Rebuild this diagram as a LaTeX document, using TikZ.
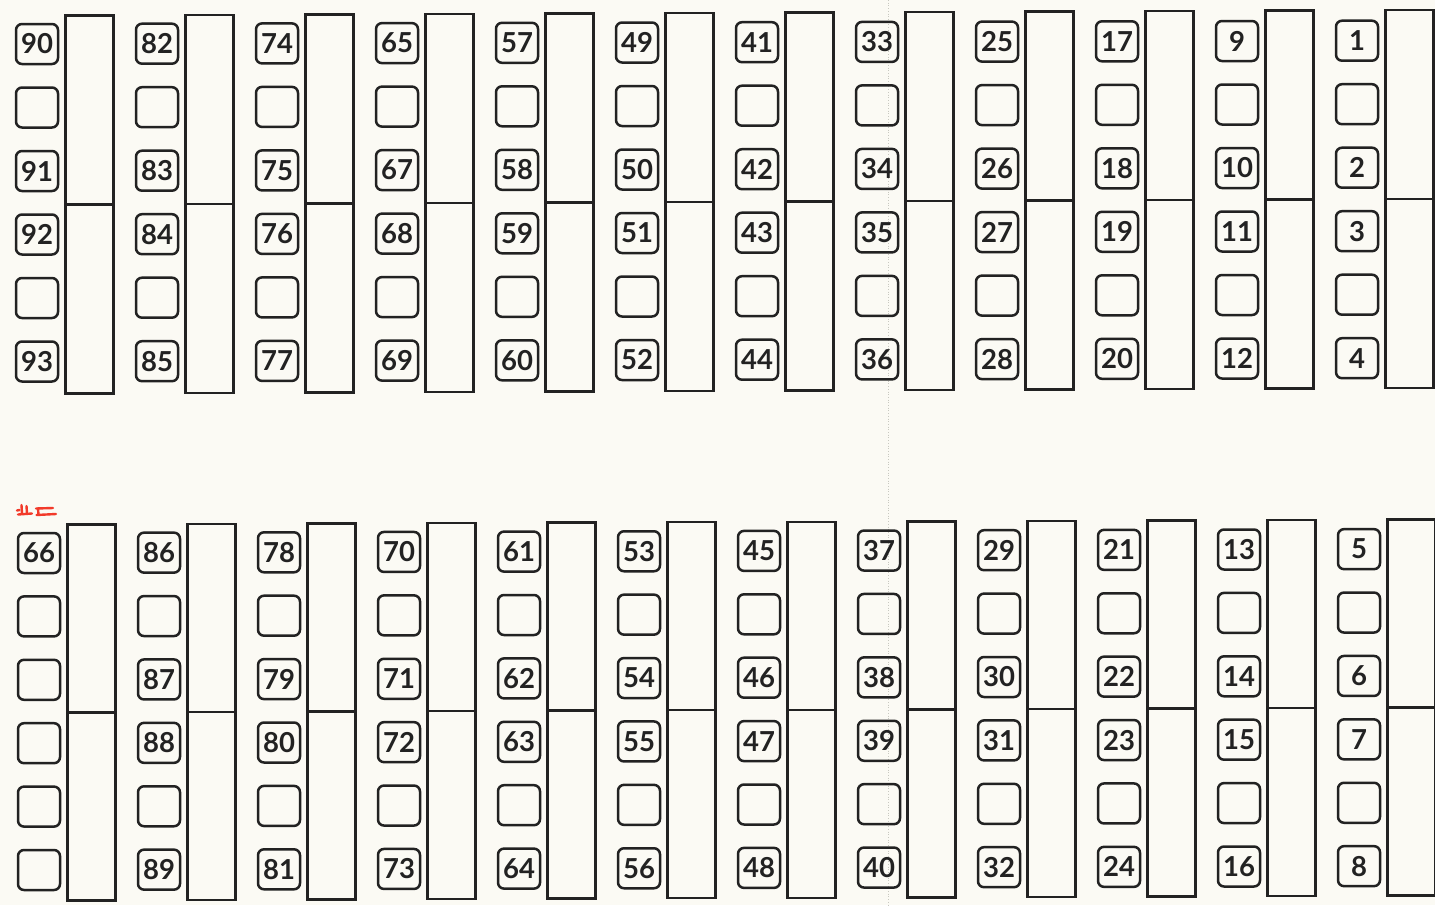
\documentclass[tikz,border=0pt]{standalone}
\usepackage{fontspec}
\setmainfont{Carlito}
\newfontfamily\slotfont{Lato}[BoldFont={Lato Bold}]
\definecolor{paper}{HTML}{FBFAF4}
\definecolor{ink}{HTML}{222222}
\definecolor{redpen}{HTML}{F23A2A}
\definecolor{fold}{HTML}{C8C8C0}
\begin{document}
\begin{tikzpicture}[x=1pt,y=-1pt,
  slot/.style={draw=ink, line width=2.5pt, rounded corners=6pt, minimum width=42pt,
    minimum height=40pt, inner sep=0pt, text=ink,
    font=\slotfont\bfseries\fontsize{27.5}{27.5}\selectfont},
  bar/.style={draw=ink, line width=2.5pt, minimum width=48pt, inner sep=0pt, anchor=north west},
  splitline/.style={draw=ink, line width=2.5pt}]
\fill[paper] (0,0) rectangle (1435,905);
\useasboundingbox (0,0) rectangle (1435,905);
\draw[fold, dotted, line width=0.7pt] (888,0) -- (888,905);
% top row
\foreach \i/\a/\b/\c/\d in {0/90/91/92/93,1/82/83/84/85,2/74/75/76/77,3/65/67/68/69,
  4/57/58/59/60,5/49/50/51/52,6/41/42/43/44,7/33/34/35/36,8/25/26/27/28,
  9/17/18/19/20,10/9/10/11/12,11/1/2/3/4}{
  \pgfmathsetmacro\x{37+120*\i}
  \pgfmathsetmacro\y{44-0.3*\i}
  \node[slot] (t\a) at (\x,\y) {\a};
  \node[slot] (te\i-1) at (\x,\y+63.5) {};
  \node[slot] (t\b) at (\x,\y+127) {\b};
  \node[slot] (t\c) at (\x,\y+190.5) {\c};
  \node[slot] (te\i-4) at (\x,\y+254) {};
  \node[slot] (t\d) at (\x,\y+317.5) {\d};
  \node[bar, minimum height=378pt] (tb\i) at ({64.4+120*\i},{14.2-0.5*\i}) {};
  \draw[splitline] (tb\i.west) -- (tb\i.east);
}
% bottom row, first column
\node[slot] (b66) at (39,553) {66};
\foreach \k in {1,...,5}{
  \node[slot] (be0-\k) at (39,{553+63.4*\k}) {};
}
\node[bar, minimum height=376pt] (bb0) at (66.2,523.2) {};
\draw[splitline] (bb0.west) -- (bb0.east);
% bottom row, other columns
\foreach \i/\a/\b/\c/\d in {1/86/87/88/89,2/78/79/80/81,3/70/71/72/73,4/61/62/63/64,
  5/53/54/55/56,6/45/46/47/48,7/37/38/39/40,8/29/30/31/32,9/21/22/23/24,
  10/13/14/15/16,11/5/6/7/8}{
  \pgfmathsetmacro\x{39+120*\i}
  \pgfmathsetmacro\y{553-0.35*\i}
  \node[slot] (b\a) at (\x,\y) {\a};
  \node[slot] (be\i-1) at (\x,\y+63.4) {};
  \node[slot] (b\b) at (\x,\y+126.8) {\b};
  \node[slot] (b\c) at (\x,\y+190.2) {\c};
  \node[slot] (be\i-4) at (\x,\y+253.6) {};
  \node[slot] (b\d) at (\x,\y+317) {\d};
  \node[bar, minimum height=376pt] (bb\i) at ({66.2+120*\i},{523.2-0.45*\i}) {};
  \draw[splitline] (bb\i.west) -- (bb\i.east);
}
% red handwritten mark
\begin{scope}[draw=redpen, line width=2.4pt, line cap=round, line join=round]
  \draw (17,510.5) -- (19.5,510);
  \draw (21.5,505) -- (22,513.5);
  \draw (26.5,506) -- (27,513.5);
  \draw (18,514.5) -- (32,513.5);
  \draw (36,508.5) -- (53,508);
  \draw (38,508.5) -- (38.5,514.5);
  \draw (36.5,515) -- (56,514);
\end{scope}
\end{tikzpicture}
\end{document}
